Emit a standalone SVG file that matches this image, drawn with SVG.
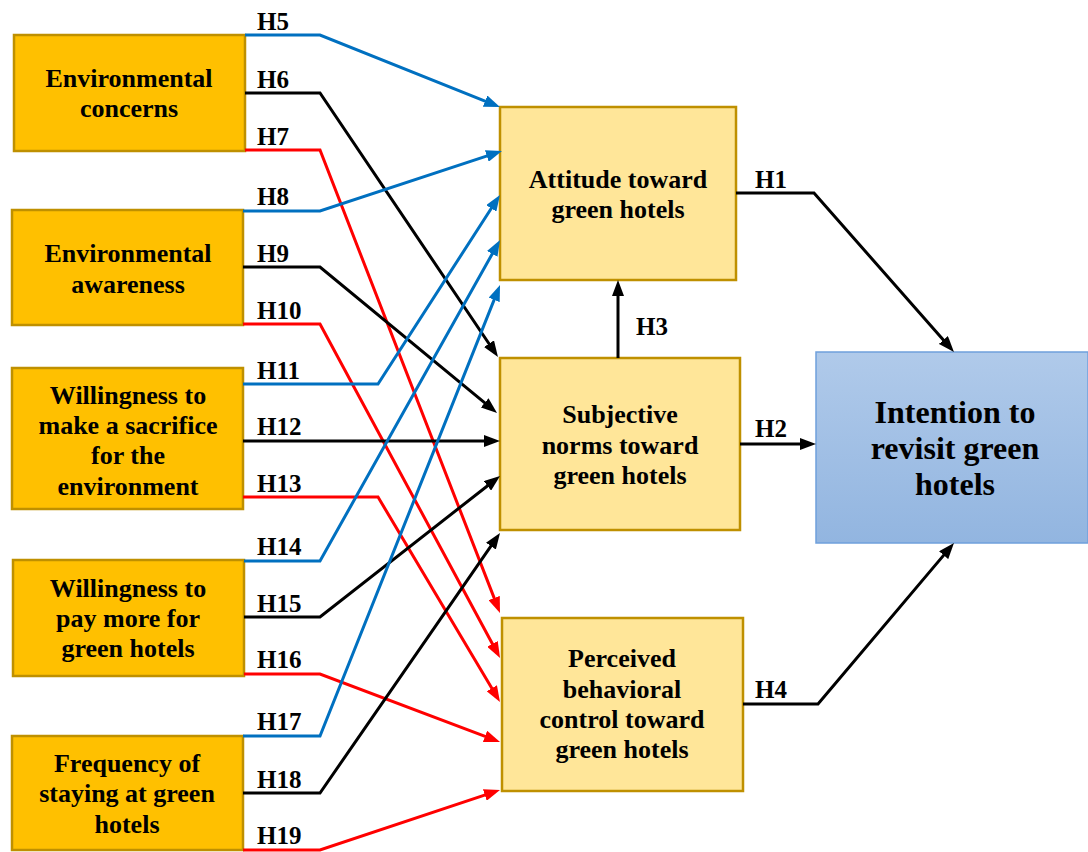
<svg xmlns="http://www.w3.org/2000/svg" width="1088" height="852" viewBox="0 0 1088 852">
  <defs>
    <style>
      .src { fill: #FFC000; stroke: #BF9000; stroke-width: 2.5; }
      .mid { fill: #FFE699; stroke: #BF9000; stroke-width: 2.5; }
      .out { fill: url(#blueGrad); stroke: #6FA0DC; stroke-width: 1.5; }
      text { font-family: "Liberation Serif", "Times New Roman", serif; font-weight: bold; fill: #000; }
      .bt { font-size: 26px; text-anchor: middle; }
      .big { font-size: 32px; text-anchor: middle; }
      .lab { font-size: 25px; }
      .ln { fill: none; stroke-width: 3; stroke-linejoin: miter; }
      .blue { stroke: #0070C0; marker-end: url(#arrBlue); }
      .black { stroke: #000; marker-end: url(#arrBlack); }
      .red { stroke: #FF0000; marker-end: url(#arrRed); }
    </style>
    <linearGradient id="blueGrad" x1="0" y1="0" x2="0" y2="1">
      <stop offset="0" stop-color="#B0CAEA"/>
      <stop offset="1" stop-color="#92B5E0"/>
    </linearGradient>
    <marker id="arrBlue" markerUnits="userSpaceOnUse" viewBox="0 0 16 12" markerWidth="16" markerHeight="12" refX="10" refY="6" orient="auto">
      <path d="M0,0 L16,6 L0,12 z" fill="#0070C0"/>
    </marker>
    <marker id="arrBlack" markerUnits="userSpaceOnUse" viewBox="0 0 16 12" markerWidth="16" markerHeight="12" refX="10" refY="6" orient="auto">
      <path d="M0,0 L16,6 L0,12 z" fill="#000"/>
    </marker>
    <marker id="arrRed" markerUnits="userSpaceOnUse" viewBox="0 0 16 12" markerWidth="16" markerHeight="12" refX="10" refY="6" orient="auto">
      <path d="M0,0 L16,6 L0,12 z" fill="#FF0000"/>
    </marker>
  </defs>

  <rect width="1088" height="852" fill="#fff"/>

  <!-- antecedent constructs -->
  <g id="env-concerns">
    <rect class="src" x="14" y="35" width="231" height="116"/>
    <text class="bt" x="129" y="87">Environmental</text>
    <text class="bt" x="129" y="117">concerns</text>
  </g>
  <g id="env-awareness">
    <rect class="src" x="12" y="210" width="231" height="115"/>
    <text class="bt" x="128" y="262">Environmental</text>
    <text class="bt" x="128" y="293">awareness</text>
  </g>
  <g id="sacrifice">
    <rect class="src" x="12" y="368" width="231" height="141"/>
    <text class="bt" x="128" y="404">Willingness to</text>
    <text class="bt" x="128" y="434">make a sacrifice</text>
    <text class="bt" x="128" y="464">for the</text>
    <text class="bt" x="128" y="495">environment</text>
  </g>
  <g id="pay-more">
    <rect class="src" x="13" y="560" width="231" height="116"/>
    <text class="bt" x="128" y="597">Willingness to</text>
    <text class="bt" x="128" y="627">pay more for</text>
    <text class="bt" x="128" y="657">green hotels</text>
  </g>
  <g id="frequency">
    <rect class="src" x="12" y="736" width="231" height="114"/>
    <text class="bt" x="127" y="772">Frequency of</text>
    <text class="bt" x="127" y="802">staying at green</text>
    <text class="bt" x="127" y="833">hotels</text>
  </g>

  <!-- mediating constructs -->
  <g id="attitude">
    <rect class="mid" x="500" y="107" width="236" height="173"/>
    <text class="bt" x="618" y="188">Attitude toward</text>
    <text class="bt" x="618" y="218">green hotels</text>
  </g>
  <g id="norms">
    <rect class="mid" x="500" y="358" width="240" height="172"/>
    <text class="bt" x="620" y="423">Subjective</text>
    <text class="bt" x="620" y="454">norms toward</text>
    <text class="bt" x="620" y="484">green hotels</text>
  </g>
  <g id="pbc">
    <rect class="mid" x="502" y="618" width="241" height="173"/>
    <text class="bt" x="622" y="667">Perceived</text>
    <text class="bt" x="622" y="698">behavioral</text>
    <text class="bt" x="622" y="728">control toward</text>
    <text class="bt" x="622" y="758">green hotels</text>
  </g>

  <!-- outcome -->
  <g id="intention">
    <rect class="out" x="816" y="352" width="272" height="191"/>
    <text class="big" x="955" y="423">Intention to</text>
    <text class="big" x="955" y="459">revisit green</text>
    <text class="big" x="955" y="495">hotels</text>
  </g>

  <!-- hypothesis paths -->
  <g id="connectors">
    <polyline class="ln blue" points="245,35 320,35 494.4,104.8"/>
    <polyline class="ln black" points="245,93 320,93 494.6,352"/>
    <polyline class="ln red" points="245,150 320,150 497.8,607.4"/>
    <polyline class="ln blue" points="243,211 320,211 496.3,152.9"/>
    <polyline class="ln black" points="243,267 320,267 492.4,409.2"/>
    <polyline class="ln red" points="243,324 320,324 497.2,652.7"/>
    <polyline class="ln blue" points="243,384 378,384 496.7,200"/>
    <polyline class="ln black" points="243,441 494,441"/>
    <polyline class="ln red" points="243,497 378,497 496.9,696.8"/>
    <polyline class="ln blue" points="244,561 320,561 497.1,245.2"/>
    <polyline class="ln black" points="244,617 320,617 495.3,479.7"/>
    <polyline class="ln red" points="244,674 320,674 494.4,739.9"/>
    <polyline class="ln blue" points="243,736 320,736 497.8,290.6"/>
    <polyline class="ln black" points="243,793 320,793 496.6,537.9"/>
    <polyline class="ln red" points="243,850 320,850 494.3,791.9"/>
    <polyline class="ln black" points="736,193 814,193 950,347.5"/>
    <polyline class="ln black" points="740,444 810,444"/>
    <polyline class="ln black" points="618,358 618,286"/>
    <polyline class="ln black" points="743,704 818,704 950.1,547.6"/>

    <text class="lab" x="257" y="30">H5</text>
    <text class="lab" x="257" y="88">H6</text>
    <text class="lab" x="257" y="145">H7</text>
    <text class="lab" x="257" y="205">H8</text>
    <text class="lab" x="257" y="262">H9</text>
    <text class="lab" x="257" y="319">H10</text>
    <text class="lab" x="257" y="379">H11</text>
    <text class="lab" x="257" y="435">H12</text>
    <text class="lab" x="257" y="492">H13</text>
    <text class="lab" x="257" y="555">H14</text>
    <text class="lab" x="257" y="612">H15</text>
    <text class="lab" x="257" y="668">H16</text>
    <text class="lab" x="257" y="730">H17</text>
    <text class="lab" x="257" y="788">H18</text>
    <text class="lab" x="257" y="844">H19</text>
    <text class="lab" x="755" y="188">H1</text>
    <text class="lab" x="755" y="437">H2</text>
    <text class="lab" x="636" y="335">H3</text>
    <text class="lab" x="755" y="698">H4</text>
  </g>
</svg>
